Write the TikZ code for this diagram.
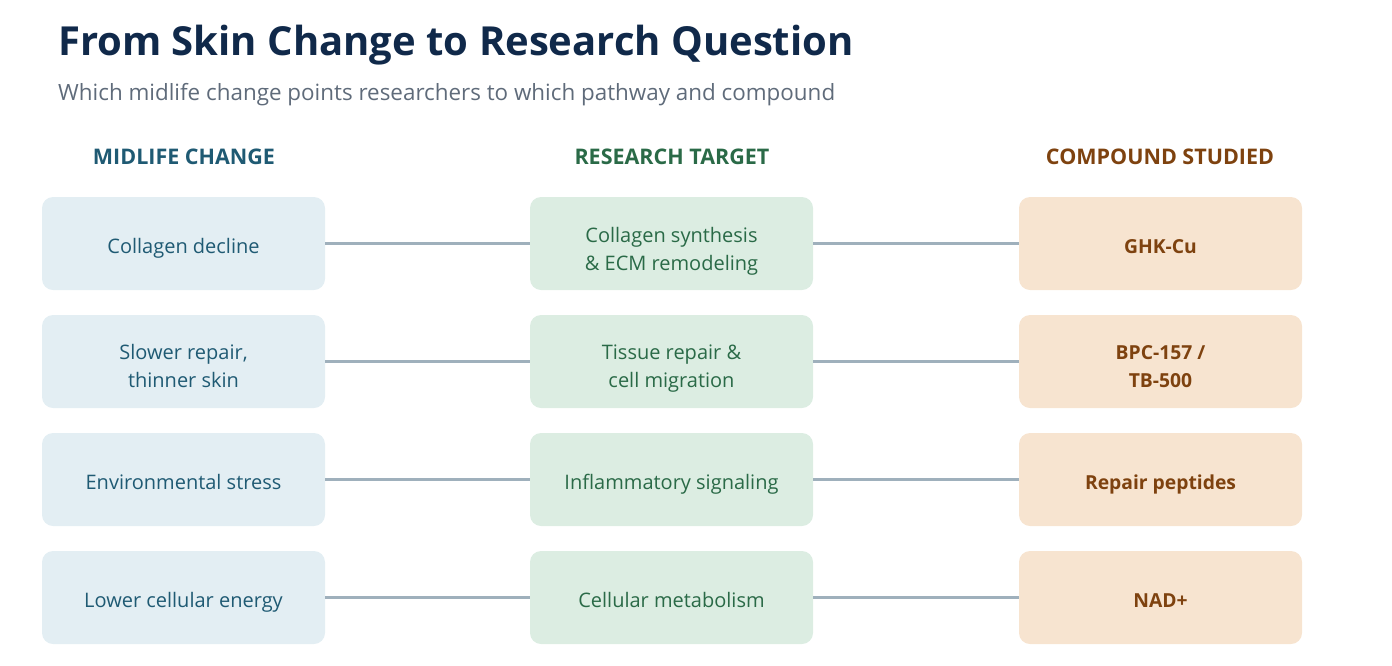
\documentclass[tikz,border=0pt]{standalone}
\usepackage{fontspec}
\setmainfont{Open Sans}
\usetikzlibrary{positioning}

\definecolor{titlenavy}{HTML}{10294A}
\definecolor{subgray}{HTML}{5F6B7A}
\definecolor{changeblue}{HTML}{1F5A73}
\definecolor{changefill}{HTML}{E3EEF3}
\definecolor{targetgreen}{HTML}{2A6A47}
\definecolor{targetfill}{HTML}{DCEDE2}
\definecolor{compbrown}{HTML}{7E420F}
\definecolor{compfill}{HTML}{F7E4D0}
\definecolor{linkgray}{HTML}{9FB0BC}

% box text, set a little low as in the reference
\newcommand{\celltext}[2][4.5pt]{\raisebox{-#1}[\height][\depth]{\begin{tabular}{@{}c@{}}#2\end{tabular}}}

\tikzset{
  cell/.style={rectangle, rounded corners=11pt, minimum width=283pt, minimum height=93pt,
    font=\fontsize{20}{28}\selectfont, inner sep=0pt},
  changebox/.style={cell, fill=changefill, text=changeblue},
  targetbox/.style={cell, fill=targetfill, text=targetgreen},
  compbox/.style={cell, fill=compfill, text=compbrown, font=\fontsize{19.3}{28}\selectfont\bfseries},
  colhead/.style={font=\fontsize{21.5}{26}\selectfont\bfseries},
  link/.style={draw=linkgray, line width=3pt}
}

\begin{document}
\begin{tikzpicture}[x=1pt, y=-1pt, node distance=118pt]
\useasboundingbox (0,0) rectangle (1392,665);

		% title and subtitle
		\node(title)[anchor=base west, inner sep=0pt, text=titlenavy, font=\fontsize{40}{46}\selectfont\bfseries] at (58,55) {From Skin Change to Research Question};
		\node(subtitle)[anchor=base west, inner sep=0pt, text=subgray, font=\fontsize{22.4}{28}\selectfont] at (58,100) {Which midlife change points researchers to which pathway and compound};

		% column heads
		\node(head-change)[colhead, text=changeblue] at (184,157) {MIDLIFE CHANGE};
		\node(head-target)[colhead, text=targetgreen] at (672,157) {RESEARCH TARGET};
		\node(head-comp)[colhead, text=compbrown] at (1160,157) {COMPOUND STUDIED};

		% midlife changes
		\node(change-1)[changebox] at (183.5,243.5) {\celltext{Collagen decline}};
		\node(change-2)[changebox, below of=change-1] {\celltext[6pt]{Slower repair,\\thinner skin}};
		\node(change-3)[changebox, below of=change-2] {\celltext{Environmental stress}};
		\node(change-4)[changebox, below of=change-3] {\celltext{Lower cellular energy}};

		% research targets
		\node(target-1)[targetbox] at (671.5,243.5) {\celltext[7pt]{Collagen synthesis\\\& ECM remodeling}};
		\node(target-2)[targetbox, below of=target-1] {\celltext[6pt]{Tissue repair \&\\cell migration}};
		\node(target-3)[targetbox, below of=target-2] {\celltext{Inflammatory signaling}};
		\node(target-4)[targetbox, below of=target-3] {\celltext{Cellular metabolism}};

		% compounds
		\node(comp-1)[compbox] at (1160.5,243.5) {\celltext{GHK-Cu}};
		\node(comp-2)[compbox, below of=comp-1] {\celltext[6pt]{BPC-157 /\\TB-500}};
		\node(comp-3)[compbox, below of=comp-2] {\celltext{Repair peptides}};
		\node(comp-4)[compbox, below of=comp-3] {\celltext{NAD+}};

		\draw[link] (change-1) -- (target-1) -- (comp-1);
		\draw[link] (change-2) -- (target-2) -- (comp-2);
		\draw[link] (change-3) -- (target-3) -- (comp-3);
		\draw[link] (change-4) -- (target-4) -- (comp-4);
	\end{tikzpicture}
\end{document}
